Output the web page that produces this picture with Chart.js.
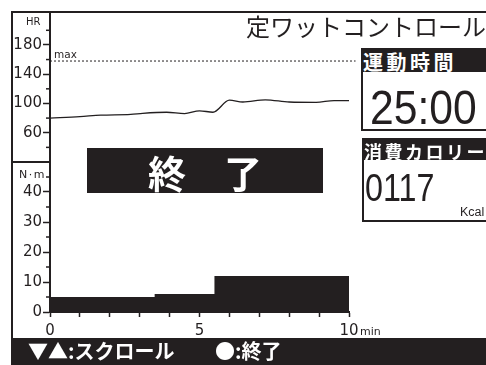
<!DOCTYPE html>
<html lang="ja">
<head>
<meta charset="UTF-8">
<title>定ワットコントロール</title>
<script src="https://cdn.jsdelivr.net/npm/chart.js"></script>
<style>
  html, body { margin: 0; padding: 0; background: #fff; }
  body { width: 486px; height: 365px; position: relative; overflow: hidden; color: #231f20; }
  canvas { position: absolute; left: 0; }
  .abs { position: absolute; white-space: nowrap; line-height: 1; }
  .jp { font-family: "Noto Sans CJK JP", sans-serif; }
  .lat { font-family: "DejaVu Sans", sans-serif; }
  .num { font-family: "Liberation Sans", sans-serif; transform-origin: 0 0; }
  .line { position: absolute; background: #231f20; }
  .box { position: absolute; border: 2px solid #231f20; background: #fff; box-sizing: border-box; }
  .head { position: absolute; left: 0; top: -2px; right: 0; background: #231f20; color: #fff; font-weight: bold; overflow: hidden; }
</style>
</head>
<body>
<canvas id="hrChart" width="372" height="180" style="top:0"></canvas>
<canvas id="torqueChart" width="372" height="200" style="top:140px"></canvas>

<!-- frame -->
<div class="line" style="left:11px;top:11px;width:475px;height:2px"></div>
<div class="line" style="left:11px;top:11px;width:2px;height:329px"></div>
<div class="line" style="left:11px;top:161px;width:39px;height:2px"></div>
<div class="line" style="left:11px;top:338px;width:475px;height:27px"></div>

<div class="abs lat" style="left:26px;top:17px;font-size:10px">HR</div>
<div class="abs lat" style="left:19px;top:168.5px;font-size:11px;letter-spacing:1.5px">N·m</div>
<div class="abs lat" style="left:54px;top:48.5px;font-size:10.5px">max</div>
<div class="abs lat" style="left:360px;top:325.5px;font-size:11px">min</div>

<div class="abs jp" style="left:246px;top:13.5px;font-size:24px">定ワットコントロール</div>

<div class="box" style="left:361px;top:48px;width:140px;height:83px">
  <div class="head" style="height:24px"><div class="abs jp" style="left:0;top:3.5px;font-size:20px;letter-spacing:3.5px">運動時間</div></div>
  <div class="abs num" style="left:6.5px;top:32.5px;font-size:49px;transform:scaleX(0.87)">25:00</div>
</div>
<div class="box" style="left:362px;top:138px;width:140px;height:84px">
  <div class="head" style="height:22px"><div class="abs jp" style="left:0;top:3.5px;font-size:18px;letter-spacing:2.5px">消費カロリー</div></div>
  <div class="abs num" style="left:1.4px;top:28.8px;font-size:38px;transform:scaleX(0.85)">0117</div>
  <div class="abs" style="left:96px;top:66.4px;font-size:12.5px;font-family:'Liberation Sans',sans-serif">Kcal</div>
</div>

<div class="abs jp" style="left:87px;top:148px;width:236px;height:45px;background:#231f20;color:#fff;text-align:center;font-size:38px;line-height:48px;font-weight:bold">終　了</div>

<div class="abs jp" style="left:28px;top:341px;font-size:20px;font-weight:bold;color:#fff">▼▲:スクロール</div>
<div class="abs jp" style="left:215px;top:341px;font-size:20px;font-weight:bold;color:#fff">●:終了</div>

<script>
  // heart rate trace (minutes, bpm)
  const hrTime = [0, 1, 1.7, 2.7, 3.1, 3.9, 4.5, 5.0, 5.45, 6.0, 6.45, 7.2, 8.0, 8.9, 9.5, 10];
  const hrValue = [80, 82, 84, 85, 86.5, 88, 86, 90, 88, 104.5, 102, 105, 102, 101.5, 104, 104];
  const hrMax = [158];
  const hrMajor = [60, 100, 140, 180];
  const hrMinor = [40, 80, 120, 160, 200];

  // torque steps (minutes, N·m)
  const torqueStart = [0, 3.5, 5.5];
  const torqueEnd = [3.5, 5.5, 10];
  const torqueValue = [5, 6, 12];
  const torqueMajor = [0, 10, 20, 30, 40];
  const torqueMinor = [5, 15, 25, 35, 45];

  const xLabels = [0, 5, 10];

  const ink = '#231f20';
  Chart.defaults.font.family = "'DejaVu Sans', sans-serif";
  Chart.defaults.color = ink;

  const minorTicks = {
    id: 'minorTicks',
    afterDraw(chart, args, opts) {
      const s = chart.scales.y;
      const ctx = chart.ctx;
      ctx.save();
      ctx.strokeStyle = ink;
      ctx.lineWidth = 1.5;
      opts.values.forEach(v => {
        const y = s.getPixelForValue(v);
        ctx.beginPath();
        ctx.moveTo(s.right - 4, y);
        ctx.lineTo(s.right, y);
        ctx.stroke();
      });
      ctx.restore();
    }
  };

  function yAxis(min, max, major) {
    return {
      type: 'linear',
      position: 'left',
      min: min,
      max: max,
      afterBuildTicks: s => { s.ticks = major.map(v => ({ value: v })); },
      afterFit: s => { s.width = 50; },
      ticks: { font: { size: 15 }, padding: 1, color: ink },
      grid: { drawOnChartArea: false, tickLength: 7, tickWidth: 1.5, tickColor: ink },
      border: { display: true, color: ink, width: 2 }
    };
  }

  const common = {
    responsive: false,
    animation: false,
    events: [],
    plugins: { legend: { display: false }, tooltip: { enabled: false } }
  };

  new Chart(document.getElementById('hrChart'), {
    type: 'line',
    data: {
      datasets: [
        {
          data: hrTime.map((t, i) => ({ x: t, y: hrValue[i] })),
          borderColor: ink,
          borderWidth: 1.3,
          pointRadius: 0,
          cubicInterpolationMode: 'monotone'
        },
        {
          data: [{ x: 0, y: hrMax[0] }, { x: 10.22, y: hrMax[0] }],
          borderColor: ink,
          borderWidth: 1,
          borderDash: [2, 2],
          pointRadius: [0, 3],
          pointStyle: 'triangle',
          rotation: -90,
          pointBackgroundColor: ink,
          pointBorderWidth: 0,
          clip: false
        }
      ]
    },
    options: {
      ...common,
      layout: { padding: { left: 0, top: 12, right: 23, bottom: 18 } },
      scales: {
        x: { type: 'linear', min: 0, max: 10, display: false },
        y: yAxis(20, 225, hrMajor)
      },
      plugins: { ...common.plugins, minorTicks: { values: hrMinor } }
    },
    plugins: [minorTicks]
  });

  const torquePoints = torqueStart.map((t, i) => ({ x: t, y: torqueValue[i] }));
  torquePoints.push({ x: torqueEnd[torqueEnd.length - 1], y: torqueValue[torqueValue.length - 1] });

  new Chart(document.getElementById('torqueChart'), {
    type: 'line',
    data: {
      datasets: [{
        data: torquePoints,
        stepped: true,
        fill: 'origin',
        backgroundColor: ink,
        borderColor: ink,
        borderWidth: 0,
        pointRadius: 0
      }]
    },
    options: {
      ...common,
      layout: { padding: { left: 0, top: 22, right: 23, bottom: 0 } },
      scales: {
        x: {
          type: 'linear',
          min: 0,
          max: 10,
          afterFit: s => { s.height = 28; },
          ticks: {
            stepSize: 1,
            autoSkip: false,
            maxRotation: 0,
            padding: 5,
            font: { size: 15 },
            color: ink,
            callback: v => xLabels.includes(v) ? String(v) : ''
          },
          grid: { drawOnChartArea: false, tickLength: 5, tickWidth: 1.5, tickColor: ink },
          border: { display: true, color: ink, width: 2 }
        },
        y: yAxis(0, 50, torqueMajor)
      },
      plugins: { ...common.plugins, minorTicks: { values: torqueMinor } }
    },
    plugins: [minorTicks]
  });
</script>
</body>
</html>
